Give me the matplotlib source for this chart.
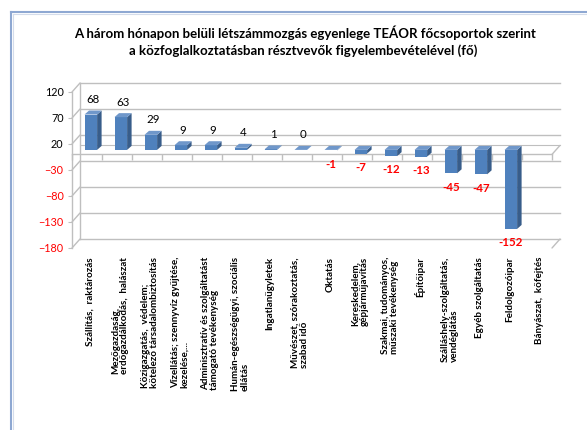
import matplotlib
matplotlib.use('Agg')
import matplotlib.pyplot as plt
import matplotlib.transforms as mtrans
from matplotlib.patches import Polygon
from matplotlib.lines import Line2D
import numpy as np

# ---------------- data ----------------
title_lines = ["A három hónapon belüli létszámmozgás egyenlege TEÁOR főcsoportok szerint",
               "a közfoglalkoztatásban résztvevők figyelembevételével (fő)"]
categories = [
    "Szállítás,  raktározás",
    "Mezőgazdaság,\nerdőgazdálkodás,  halászat",
    "Közigazgatás,  védelem;\nkötelező társadalombiztosítás",
    "Vízellátás; szennyvíz gyűjtése,\nkezelése,...",
    "Adminisztratív és szolgáltatást\ntámogató tevékenység",
    "Humán-egészségügyi, szociális\nellátás",
    "Ingatlanügyletek",
    "Művészet, szórakoztatás,\nszabad idő",
    "Oktatás",
    "Kereskedelem,\ngépjárműjavítás",
    "Szakmai, tudományos,\nműszaki tevékenység",
    "Építőipar",
    "Szálláshely-szolgáltatás,\nvendéglátás",
    "Egyéb szolgáltatás",
    "Feldolgozóipar",
    "Bányászat,  kőfejtés",
]
values = [68, 63, 29, 9, 9, 4, 1, 0, -1, -7, -12, -13, -45, -47, -152, None]
yticks = [120, 70, 20, -30, -80, -130, -180]
ylim = (-180, 120)

# ---------------- style ----------------
plt.rcParams['font.family'] = ['Lato', 'DejaVu Sans']
front_col = '#4F81BD'
side_col = '#385D8A'
top_col = '#6F97CA'
grid_col = '#BFBFBF'
neg_col = '#FF0000'

fig = plt.figure(figsize=(5.87, 4.30), dpi=100)
ax = fig.add_axes([72/587, 1-248/430, 480/587, 156/430])
n = len(categories)
ax.set_xlim(-0.5, n - 0.5)
ax.set_ylim(*ylim)
for s in ax.spines.values():
    s.set_visible(False)
ax.set_xticks([])
ax.set_yticks(yticks)
ax.tick_params(axis='y', length=3, color=grid_col, labelsize=7.8, pad=3)
for lab, t in zip(ax.get_yticklabels(), yticks):
    lab.set_color(neg_col if t < 0 else 'black')

# back wall (offset) transform and mid-depth transform for bars
back = ax.transData + mtrans.ScaledTranslation(8/100, 9/100, fig.dpi_scale_trans)
mid = ax.transData + mtrans.ScaledTranslation(2/100, 4.5/100, fig.dpi_scale_trans)
x0, x1 = ax.get_xlim()
for t in yticks:
    ax.plot([x0, x1], [t, t], color=grid_col, lw=1.0, transform=back, clip_on=False, zorder=1)
    ax.annotate('', xy=(x0, t), xycoords=back, xytext=(x0, t), textcoords='data',
                arrowprops=dict(arrowstyle='-', color=grid_col, lw=1.0, shrinkA=0, shrinkB=0))
ax.plot([x0, x0], list(ylim), color=grid_col, lw=1.0, transform=back, clip_on=False, zorder=1)
ax.plot([x0, x0], list(ylim), color=grid_col, lw=1.0, clip_on=False, zorder=1)

# floor line and category ticks
ax.plot([x0, x1], [0, 0], color=grid_col, lw=1.0, clip_on=False, zorder=2)
ax.plot([x0, x1], [0, 0], color=grid_col, lw=0.8, transform=back, clip_on=False, zorder=1)
ax.annotate('', xy=(x1, 0), xycoords=back, xytext=(x1, 0), textcoords='data',
            arrowprops=dict(arrowstyle='-', color=grid_col, lw=1.0, shrinkA=0, shrinkB=0))
ax.annotate('', xy=(x1, ylim[0]), xycoords=back, xytext=(x1, ylim[0]), textcoords='data',
            arrowprops=dict(arrowstyle='-', color=grid_col, lw=1.0, shrinkA=0, shrinkB=0))
bounds = np.arange(n + 1) - 0.5
ax.vlines(bounds, -11, 0, color=grid_col, lw=1.0, clip_on=False, zorder=2)

# ---------------- bars (pseudo 3D) ----------------
fig.canvas.draw()
px_x = ax.bbox.width / (x1 - x0)
px_y = ax.bbox.height / (ylim[1] - ylim[0])
dx = 4.5 / px_x
dy = 4.0 / px_y
w = 0.42
xs = np.arange(n) + 0.06
for x, v in zip(xs, values):
    if v is None:
        continue
    top = max(v, 0)
    bot = min(v, 0)
    ax.bar(x, v, width=w, color=front_col, zorder=4, transform=mid)
    side = Polygon([(x + w/2, bot), (x + w/2 + dx, bot + dy), (x + w/2 + dx, top + dy), (x + w/2, top)],
                   closed=True, facecolor=side_col, edgecolor='none', zorder=4, transform=mid)
    ax.add_patch(side)
    tp = Polygon([(x - w/2, top), (x + w/2, top), (x + w/2 + dx, top + dy), (x - w/2 + dx, top + dy)],
                 closed=True, facecolor=top_col, edgecolor='none', zorder=4, transform=mid)
    ax.add_patch(tp)
    if v >= 0:
        ax.annotate(f"{v}", (x + dx/2, top + dy), xycoords=mid, textcoords='offset points', xytext=(0, 4),
                    ha='center', va='bottom', fontsize=8.3, color='black', zorder=6)
    else:
        ax.annotate(f"{v}", (x, v), xycoords=mid, textcoords='offset points', xytext=(0, -6),
                    ha='center', va='top', fontsize=8.3, color=neg_col, fontweight='bold', zorder=6)

# category labels
lab_trans = mtrans.blended_transform_factory(ax.transData, ax.transAxes)
for i, c in enumerate(categories):
    ax.text(i + 0.1, -9/156, c, transform=lab_trans, rotation=90, ha='center', va='top',
            multialignment='left', fontsize=7.1, fontweight='bold', linespacing=1.05)

# title
fig.text(0.519, 1 - 33/430, title_lines[0], ha='center', va='center', fontsize=9.5, fontweight='bold')
fig.text(0.517, 1 - 51/430, title_lines[1], ha='center', va='center', fontsize=9.5, fontweight='bold')

# chart frame (left & top)
fig.add_artist(Line2D([10.5/587, 10.5/587], [0, 1 - 11.5/430], color='#8EA8D2', lw=1.5))
fig.add_artist(Line2D([10.5/587, 1], [1 - 11.5/430, 1 - 11.5/430], color='#8EA8D2', lw=1.5))
fig.add_artist(Line2D([12.5/587, 12.5/587], [0, 1 - 13.5/430], color='#D4DCEB', lw=0.8))
fig.add_artist(Line2D([12.5/587, 1], [1 - 13.5/430, 1 - 13.5/430], color='#D4DCEB', lw=0.8))

fig.savefig('out.png', dpi=100, facecolor='white')
